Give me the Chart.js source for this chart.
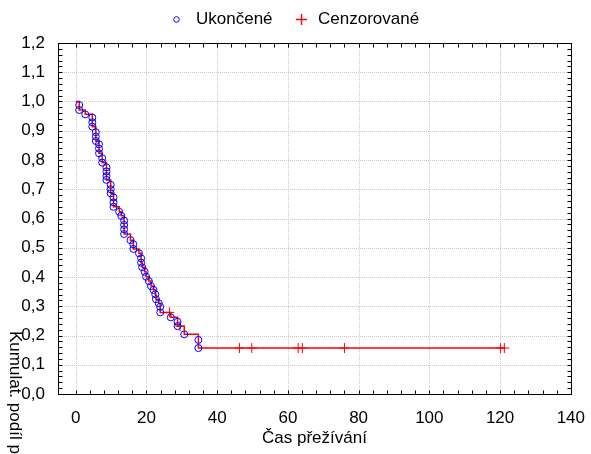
<!DOCTYPE html>
<html lang="cs">
<head>
<meta charset="UTF-8">
<title>Kaplan-Meier</title>
<style>
  body { margin: 0; background: #fff; }
  canvas { display: block; }
</style>
</head>
<body>
<canvas id="kmChart" width="591" height="454"></canvas>
<script src="https://cdn.jsdelivr.net/npm/chart.js"></script>
<script>
// complete observations: time and cumulative proportion surviving
const eventTimes = [1.0, 1.0, 2.7, 4.7, 4.7, 4.7, 5.7, 5.7, 5.7, 6.6, 6.6, 6.6, 7.5, 7.5,
  8.7, 8.7, 8.7, 8.7, 9.9, 9.9, 9.9, 10.7, 10.7, 10.7, 12.3, 12.9, 13.7, 13.7, 13.7, 13.7,
  15.5, 16.3, 16.3, 17.9, 18.5, 18.5, 18.8, 19.5, 19.9, 20.7, 21.3, 22.0, 22.5, 22.7, 23.5,
  23.9, 23.9, 26.9, 28.8, 28.8, 30.7, 34.7, 34.7];
const eventSurv = [0.988, 0.971, 0.956, 0.945, 0.929, 0.914, 0.895, 0.880, 0.865, 0.854, 0.839, 0.823, 0.806, 0.791,
  0.775, 0.761, 0.745, 0.732, 0.715, 0.700, 0.686, 0.672, 0.655, 0.640, 0.623, 0.609, 0.593, 0.578, 0.563, 0.547,
  0.526, 0.512, 0.496, 0.481, 0.464, 0.449, 0.433, 0.418, 0.401, 0.386, 0.369, 0.356, 0.341, 0.324, 0.310,
  0.298, 0.279, 0.262, 0.247, 0.232, 0.204, 0.185, 0.157];

// censored observations
const censTimes = [26.5, 29.5, 46.3, 49.8, 62.9, 64.1, 76.0, 120.1, 121.2];
const censSurv = [0.279, 0.232, 0.157, 0.157, 0.157, 0.157, 0.157, 0.157, 0.157];

const seriesNames = ['Ukončené', 'Cenzorované'];
const xTicks = [0, 20, 40, 60, 80, 100, 120, 140];
const yTicks = [0, 0.1, 0.2, 0.3, 0.4, 0.5, 0.6, 0.7, 0.8, 0.9, 1.0, 1.1, 1.2];
const xTitle = 'Čas přežívání';
const yTitle = 'Kumulat. podíl přežívajících';

const FONT = 'Arial, "Liberation Sans", sans-serif';
const FSIZE = 17;
const BLUE = '#0000ff';
const RED = '#ff0000';

const events = eventTimes.map((t, i) => ({ x: t, y: eventSurv[i] }));
const censored = censTimes.map((t, i) => ({ x: t, y: censSurv[i] }));

// survival step function through all observations
const steps = [{ x: 0, y: 1 }].concat(events, censored)
  .sort((a, b) => a.x - b.x || b.y - a.y);

const fmt = v => v.toFixed(1).replace('.', ',');

// frame, dotted grid, inward minor ticks, legend and rotated y title
const kmDecor = {
  id: 'kmDecor',
  beforeDatasetsDraw(chart) {
    const { ctx, chartArea: a, scales: { x, y } } = chart;
    ctx.save();
    ctx.strokeStyle = '#c8c8c8';
    ctx.lineWidth = 1;
    ctx.setLineDash([1, 1]);
    ctx.beginPath();
    xTicks.forEach(v => {
      const px = Math.round(x.getPixelForValue(v)) + 0.5;
      ctx.moveTo(px, a.top); ctx.lineTo(px, a.bottom);
    });
    yTicks.forEach(v => {
      const py = Math.round(y.getPixelForValue(v)) + 0.5;
      ctx.moveTo(a.left, py); ctx.lineTo(a.right, py);
    });
    ctx.stroke();
    ctx.setLineDash([]);

    const L = Math.round(a.left) + 0.5, R = Math.round(a.right) + 0.5;
    const T = Math.round(a.top) + 0.5, B = Math.round(a.bottom) + 0.5;
    ctx.strokeStyle = '#000';
    ctx.beginPath();
    for (let v = 0; v <= 140; v += 4) {
      const px = Math.round(x.getPixelForValue(v)) + 0.5;
      ctx.moveTo(px, B); ctx.lineTo(px, B - 4);
      ctx.moveTo(px, T); ctx.lineTo(px, T + 4);
    }
    for (let k = 0; k <= 60; k++) {
      const py = Math.round(y.getPixelForValue(k * 0.02)) + 0.5;
      ctx.moveTo(L, py); ctx.lineTo(L + 4, py);
      ctx.moveTo(R, py); ctx.lineTo(R - 4, py);
    }
    ctx.stroke();
    ctx.strokeRect(L, T, R - L, B - T);
    ctx.restore();
  },
  afterDraw(chart) {
    const { ctx } = chart;
    ctx.save();
    ctx.font = FSIZE + 'px ' + FONT;
    ctx.textBaseline = 'middle';
    ctx.textAlign = 'left';

    // legend markers
    ctx.lineWidth = 1;
    ctx.strokeStyle = BLUE;
    ctx.beginPath();
    ctx.arc(176.5, 19.5, 2.8, 0, Math.PI * 2);
    ctx.stroke();
    ctx.lineWidth = 1.4;
    ctx.strokeStyle = RED;
    ctx.beginPath();
    ctx.moveTo(296, 19.5); ctx.lineTo(307, 19.5);
    ctx.moveTo(301.5, 14); ctx.lineTo(301.5, 25);
    ctx.stroke();

    // legend labels
    ctx.fillStyle = '#000';
    ctx.fillText(seriesNames[0], 196, 19);
    ctx.fillText(seriesNames[1], 318, 19);

    // y axis title, reading downwards
    ctx.translate(15, 331);
    ctx.rotate(Math.PI / 2);
    ctx.fillText(yTitle, 0, 0);
    ctx.restore();
  }
};

new Chart(document.getElementById('kmChart'), {
  type: 'scatter',
  data: {
    datasets: [
      {
        type: 'line',
        data: steps,
        stepped: 'before',
        borderColor: RED,
        borderWidth: 1.5,
        pointRadius: 0,
        fill: false,
        order: 3
      },
      {
        label: seriesNames[1],
        data: censored,
        pointStyle: 'cross',
        pointRadius: 5,
        borderColor: RED,
        borderWidth: 1,
        order: 2
      },
      {
        label: seriesNames[0],
        data: events,
        pointStyle: 'circle',
        pointRadius: 3.5,
        borderColor: BLUE,
        backgroundColor: 'rgba(0,0,0,0)',
        borderWidth: 1,
        order: 1
      }
    ]
  },
  options: {
    responsive: false,
    animation: false,
    layout: { padding: { top: 43, right: 17, left: 0, bottom: 0 } },
    plugins: {
      legend: { display: false },
      tooltip: { enabled: false }
    },
    scales: {
      x: {
        type: 'linear',
        min: -5,
        max: 140,
        afterBuildTicks: s => { s.ticks = xTicks.map(v => ({ value: v })); },
        afterFit: s => { s.height = 60; },
        grid: { display: false },
        border: { display: false },
        ticks: { padding: 6, color: '#000', font: { family: FONT, size: FSIZE }, maxRotation: 0 },
        title: { display: true, text: xTitle, color: '#000', font: { family: FONT, size: FSIZE }, padding: 5 }
      },
      y: {
        min: 0,
        max: 1.2,
        afterBuildTicks: s => { s.ticks = yTicks.map(v => ({ value: v })); },
        afterFit: s => { s.width = 58; },
        grid: { display: false },
        border: { display: false },
        ticks: { padding: 5, color: '#000', font: { family: FONT, size: FSIZE }, callback: v => fmt(v) }
      }
    }
  },
  plugins: [kmDecor]
});
</script>
</body>
</html>
